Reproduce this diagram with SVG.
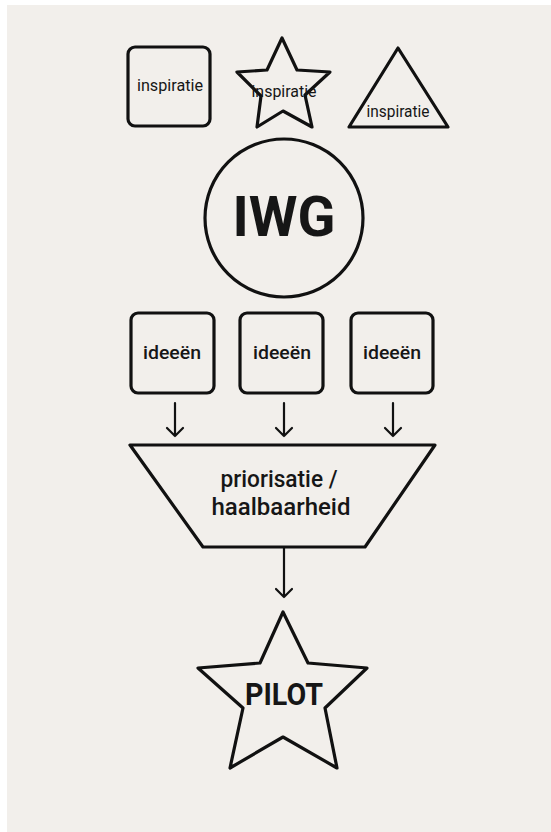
<svg xmlns="http://www.w3.org/2000/svg" width="551" height="832" viewBox="0 0 551 832">
<defs>
<style>
.shape{fill:none;stroke:#111;stroke-width:3.2;stroke-linejoin:round}
.conn{fill:none;stroke:#111;stroke-width:2.2;stroke-linecap:round;stroke-linejoin:round}
text{font-family:Roboto,"Liberation Sans",sans-serif;fill:#161616;text-anchor:middle}
.insp{font-size:16px}
.idee{font-size:18px;font-weight:500}
.prio{font-size:23px;font-weight:500}
</style>
</defs>
<rect x="0" y="0" width="551" height="832" fill="#ffffff"/>
<rect x="7" y="5" width="544" height="827" fill="#f2efeb"/>
<g id="insp-square">
<rect class="shape" x="128" y="47" width="82" height="79" rx="7"/>
<text class="insp" x="170" y="91" textLength="66" lengthAdjust="spacingAndGlyphs">inspiratie</text>
</g>
<g id="insp-star">
<polygon class="shape" points="282,38 297,70 330,72 305,95 312,127 283,111 257,127 261,96 237,72 267,70"/>
<text class="insp" x="284" y="97" textLength="65" lengthAdjust="spacingAndGlyphs">inspiratie</text>
</g>
<g id="insp-triangle">
<polygon class="shape" points="398,48 448,127 349,127"/>
<text class="insp" x="398" y="117" textLength="63" lengthAdjust="spacingAndGlyphs">inspiratie</text>
</g>
<g id="iwg">
<circle class="shape" cx="284" cy="218" r="79"/>
<text x="284" y="236" font-size="56" font-weight="700" textLength="103" lengthAdjust="spacingAndGlyphs">IWG</text>
</g>
<g id="idee1">
<rect class="shape" x="131" y="313" width="83" height="80" rx="7"/>
<text class="idee" x="172" y="359" textLength="58" lengthAdjust="spacingAndGlyphs">ideeën</text>
</g>
<g id="idee2">
<rect class="shape" x="240" y="313" width="83" height="80" rx="7"/>
<text class="idee" x="282" y="359" textLength="58" lengthAdjust="spacingAndGlyphs">ideeën</text>
</g>
<g id="idee3">
<rect class="shape" x="351" y="313" width="82" height="80" rx="7"/>
<text class="idee" x="392" y="359" textLength="58" lengthAdjust="spacingAndGlyphs">ideeën</text>
</g>
<g id="prioritering">
<polygon class="shape" points="130,445 435,445 365,547 203,547"/>
<text class="prio" x="279" y="487" textLength="117" lengthAdjust="spacingAndGlyphs">priorisatie /</text>
<text class="prio" x="281" y="515" textLength="139" lengthAdjust="spacingAndGlyphs">haalbaarheid</text>
</g>
<g id="pilot">
<polygon class="shape" points="283,612 308,663 367,668 325,708 337,768 283,737 230,768 243,708 198,668 260,663"/>
<text x="284" y="705" font-size="31" font-weight="700" textLength="78" lengthAdjust="spacingAndGlyphs">PILOT</text>
</g>
<g id="connectors">
<path class="conn" d="M175,403 V436 M167,428 L175,436 L183,428"/>
<path class="conn" d="M284,403 V436 M276,428 L284,436 L292,428"/>
<path class="conn" d="M393,403 V436 M385,428 L393,436 L401,428"/>
<path class="conn" d="M284,548 V597 M276,589 L284,597 L292,589"/>
</g>
</svg>
